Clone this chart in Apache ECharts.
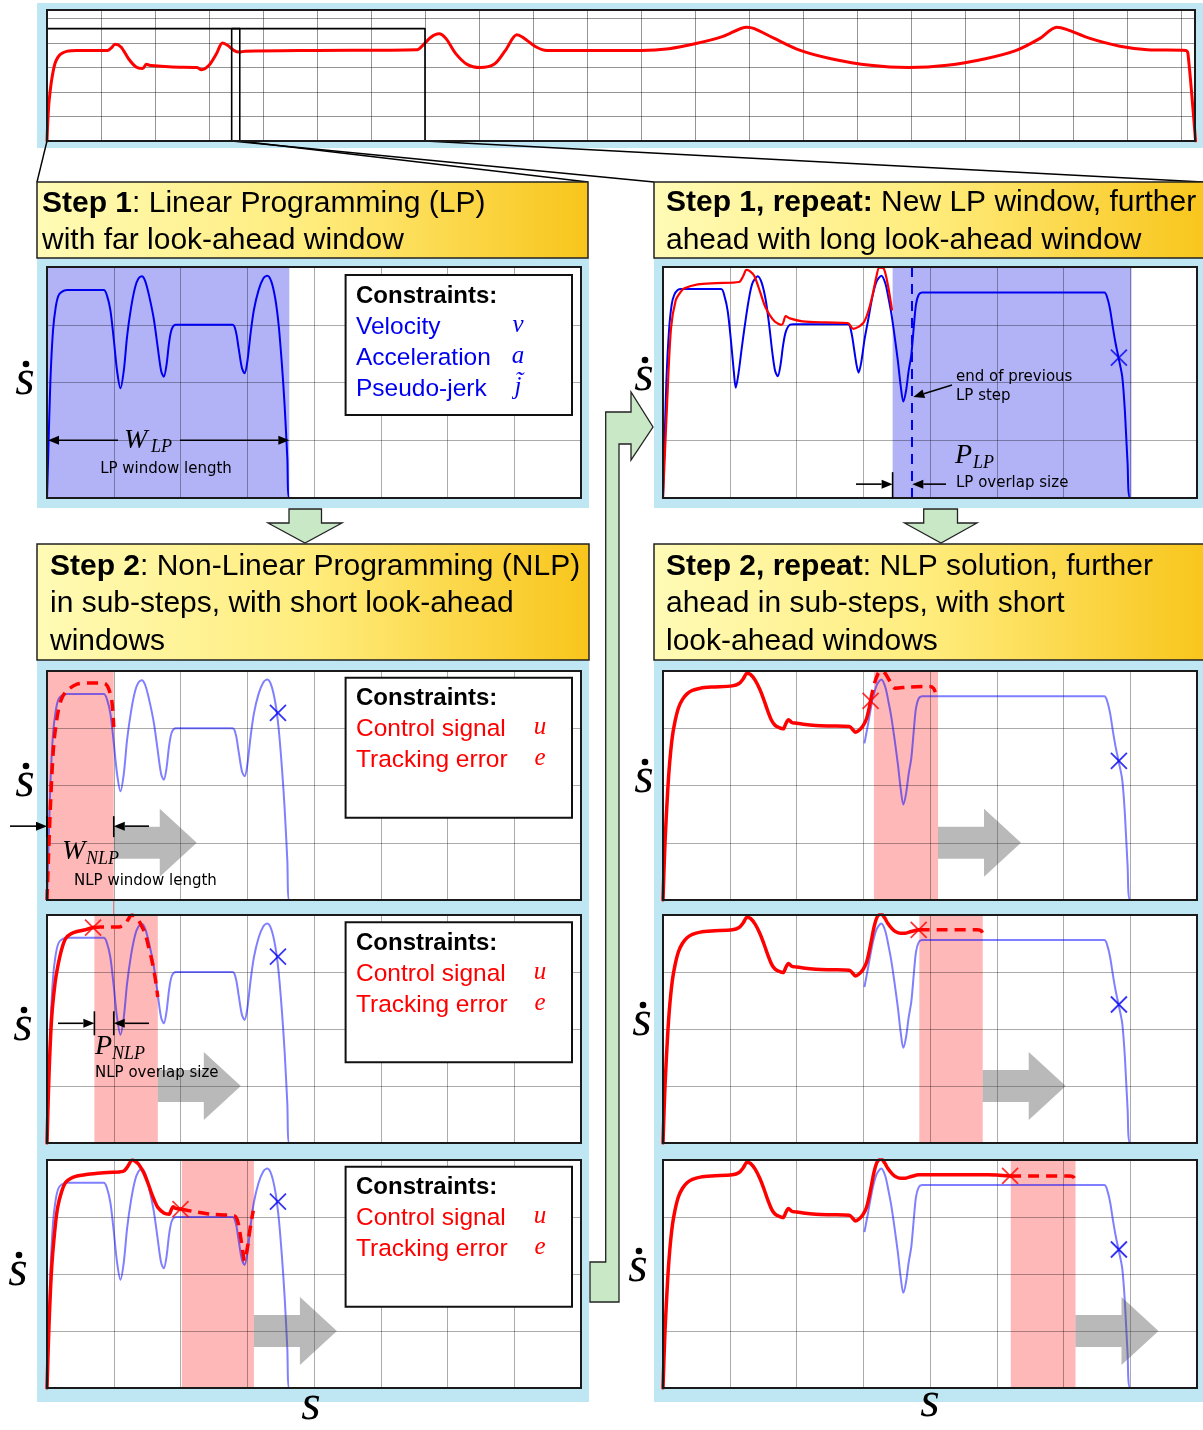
<!DOCTYPE html>
<html><head><meta charset="utf-8">
<script src="https://cdn.jsdelivr.net/npm/echarts@6/dist/echarts.min.js"></script>
<style>html,body{margin:0;padding:0;background:#fff;}#c{width:1203px;height:1430px;}</style>
</head><body><div id="c"></div>
<script>
// ================= DATA (s and s-dot in grid units) =================
// overview panel: whole trajectory
const overviewRed = [[0,0],[0.04,1.66],[0.13,3.02],[0.23,3.5],[0.38,3.67],[0.55,3.7],[1.12,3.7],[1.19,3.8],[1.26,3.95],[1.37,3.84],[1.51,3.36],[1.65,3.02],[1.77,2.96],[1.84,3.13],[1.93,3.08],[2.32,3.02],[2.78,3.0],[2.86,2.91],[3.0,3.09],[3.14,3.57],[3.25,4.0],[3.35,3.9],[3.46,3.7],[3.56,3.63],[3.67,3.67],[5.0,3.7],[6.86,3.73],[6.93,3.84],[7.11,4.24],[7.26,4.38],[7.39,4.18],[7.57,3.57],[7.78,3.13],[8.02,3.0],[8.28,3.13],[8.49,3.7],[8.7,4.34],[8.81,4.24],[9.06,3.84],[9.26,3.7],[11.0,3.7],[11.52,3.77],[12.02,3.98],[12.52,4.27],[12.96,4.65],[13.1,4.59],[13.46,4.2],[13.95,3.7],[14.52,3.36],[15.25,3.09],[15.95,3.0],[16.67,3.09],[17.38,3.36],[17.95,3.7],[18.38,4.18],[18.7,4.65],[18.88,4.56],[19.3,4.2],[19.87,3.87],[20.38,3.73],[21.09,3.7],[21.13,3.57],[21.27,0]];
const overviewLpWindow1 = [0, 3.57];
const overviewLpWindow2 = [3.42, 7.0];
const overviewWindowTop = 4.59;

// LP solutions (blue)
const lpProfile1 = [[0,0],[0.02,0.8],[0.05,2.0],[0.09,2.9],[0.13,3.3],[0.17,3.5],[0.22,3.57],[0.3,3.6],[0.85,3.6],[0.9,3.5],[0.95,3.25],[1.0,2.75],[1.05,2.2],[1.1,1.9],[1.15,2.2],[1.2,2.8],[1.26,3.3],[1.32,3.65],[1.37,3.8],[1.42,3.84],[1.47,3.76],[1.53,3.5],[1.6,3.1],[1.66,2.6],[1.71,2.2],[1.75,2.1],[1.79,2.3],[1.83,2.7],[1.87,2.93],[1.93,3.0],[2.78,3.0],[2.83,2.88],[2.87,2.6],[2.92,2.25],[2.96,2.16],[3.0,2.35],[3.05,2.85],[3.1,3.26],[3.17,3.6],[3.24,3.8],[3.3,3.85],[3.36,3.75],[3.42,3.45],[3.47,3.0],[3.52,2.3],[3.56,1.6],[3.6,0.7],[3.63,0],[8,0]];
const lpProfile2 = [[0,0],[0.02,0.8],[0.05,2.0],[0.09,2.9],[0.13,3.35],[0.17,3.52],[0.22,3.6],[0.27,3.62],[0.87,3.62],[0.92,3.5],[0.97,3.23],[1.02,2.7],[1.06,2.2],[1.09,1.91],[1.13,2.15],[1.18,2.6],[1.22,2.94],[1.28,3.4],[1.34,3.72],[1.42,3.84],[1.48,3.72],[1.54,3.42],[1.59,3.0],[1.64,2.5],[1.68,2.2],[1.72,2.11],[1.76,2.3],[1.8,2.65],[1.84,2.88],[1.9,3.0],[1.96,3.01],[2.77,3.01],[2.82,2.88],[2.86,2.6],[2.9,2.3],[2.93,2.17],[2.97,2.35],[3.02,2.75],[3.07,3.06],[3.14,3.5],[3.2,3.75],[3.27,3.85],[3.33,3.72],[3.38,3.45],[3.42,3.2],[3.47,2.8],[3.52,2.36],[3.56,1.95],[3.6,1.67],[3.64,1.85],[3.68,2.2],[3.72,2.48],[3.76,3.0],[3.79,3.35],[3.83,3.52],[3.88,3.56],[6.61,3.56],[6.66,3.45],[6.7,3.25],[6.74,2.95],[6.78,2.68],[6.83,2.4],[6.88,2.1],[6.92,1.5],[6.96,0.6],[7.0,0],[8,0]];
const lpWindowFill1 = [0, 3.63];
const lpWindowFill2 = [3.44, 7.02];
const prevLpEnd = 3.72;
const lp2VisibleFrom = 3.02;

// NLP solution shown in "Step 1, repeat" (red)
const nlpRedStep1Repeat = [[0,0],[0.06,1.6],[0.12,2.94],[0.19,3.42],[0.26,3.56],[0.32,3.63],[0.52,3.7],[0.8,3.72],[1.14,3.74],[1.2,3.84],[1.25,3.95],[1.31,3.92],[1.37,3.84],[1.46,3.55],[1.54,3.29],[1.67,3.06],[1.78,3.0],[1.84,3.15],[1.9,3.11],[2.09,3.06],[2.44,3.04],[2.77,3.03],[2.85,2.93],[3.0,3.03],[3.08,3.25],[3.14,3.52],[3.2,3.85],[3.24,3.99],[3.3,3.98],[3.34,3.85],[3.38,3.62],[3.43,3.26]];

// Step 2 (left): NLP sub-steps
const nlpWindowsLeft = [[0, 1.0], [0.71, 1.66], [2.02, 3.1]];
const nlpLeftDash1 = [[0,0],[0.05,1.6],[0.1,2.7],[0.16,3.25],[0.22,3.52],[0.3,3.66],[0.45,3.77],[0.6,3.79],[0.82,3.79],[0.88,3.77],[0.92,3.7],[0.97,3.49],[1.0,3.02]];
const nlpLeftSolid2 = [[0,0],[0.03,1.2],[0.07,2.2],[0.12,2.8],[0.16,3.09],[0.22,3.4],[0.28,3.59],[0.36,3.67],[0.45,3.71],[0.6,3.75],[0.69,3.78]];
const nlpLeftDash2 = [[0.69,3.78],[0.8,3.79],[0.91,3.79],[1.08,3.79],[1.17,3.84],[1.22,3.93],[1.27,4.0],[1.32,3.97],[1.37,3.91],[1.42,3.8],[1.47,3.68],[1.52,3.45],[1.57,3.21],[1.62,2.9],[1.66,2.56]];
const nlpLeftSolid3 = [[0,0],[0.03,1.1],[0.07,2.11],[0.12,2.8],[0.16,3.17],[0.22,3.45],[0.28,3.61],[0.36,3.68],[0.45,3.72],[0.7,3.76],[0.91,3.78],[1.14,3.8],[1.2,3.87],[1.28,4.0],[1.33,3.97],[1.37,3.93],[1.42,3.84],[1.46,3.75],[1.52,3.57],[1.57,3.4],[1.62,3.26],[1.66,3.17],[1.75,3.07],[1.83,3.05],[1.86,3.12],[1.89,3.18],[1.93,3.15],[2.0,3.14]];
const nlpLeftDash3 = [[2.0,3.14],[2.18,3.1],[2.44,3.05],[2.81,3.02],[2.85,2.95],[2.88,2.8],[2.92,2.5],[2.96,2.23],[3.0,2.45],[3.03,2.7],[3.06,2.92],[3.09,3.11]];
const redCrossLeft = [[0.69, 3.78], [2.0, 3.14]];
const blueCrossLeft = [3.46, 3.27];

// Step 2, repeat (right)
const nlpWindowsRight = [[3.16, 4.12], [3.84, 4.79], [5.21, 6.18]];
const realizedRight = [[0,0],[0.03,1.0],[0.07,1.9],[0.1,2.4],[0.14,2.85],[0.18,3.12],[0.23,3.35],[0.29,3.5],[0.36,3.6],[0.44,3.66],[0.56,3.7],[0.73,3.72],[1.04,3.74],[1.14,3.78],[1.2,3.86],[1.26,3.96],[1.31,3.94],[1.38,3.84],[1.45,3.68],[1.51,3.5],[1.57,3.3],[1.63,3.13],[1.68,3.05],[1.74,3.01],[1.8,2.99],[1.84,3.08],[1.88,3.15],[1.93,3.1],[1.98,3.09],[2.1,3.07],[2.29,3.05],[2.5,3.04],[2.79,3.03],[2.84,2.98],[2.88,2.93],[2.93,2.96],[2.99,3.03],[3.05,3.17],[3.11,3.48],[3.16,3.78],[3.21,3.97],[3.27,4.02],[3.32,3.95],[3.37,3.85],[3.43,3.76],[3.48,3.71],[3.56,3.68],[3.63,3.68],[3.72,3.71],[3.83,3.74],[4.27,3.74],[4.86,3.74],[5.2,3.72]];
const nlpRightDash1 = [[3.11,3.48],[3.16,3.75],[3.22,3.95],[3.27,4.01],[3.32,3.97],[3.36,3.9],[3.42,3.78],[3.48,3.7],[3.68,3.72],[4.0,3.73],[4.05,3.7],[4.08,3.63]];
const nlpRightDash2 = [[3.83,3.74],[4.2,3.74],[4.71,3.74],[4.77,3.72],[4.81,3.6]];
const nlpRightDash3 = [[5.2,3.72],[5.6,3.72],[6.1,3.72],[6.15,3.7],[6.2,3.58]];
const redCrossRight = [[3.11, 3.48], [3.83, 3.74], [5.2, 3.72]];
const blueCrossRight = [6.83, 2.43];
const gridLevel = 1.0; // level of grey "next" arrows

// ================= LAYOUT =================
const FONT = '"Liberation Sans", Arial, sans-serif';
const SERIF = '"Liberation Serif", "DejaVu Serif", serif';
const SMALL = '"DejaVu Sans", sans-serif';
const BLUE = '#0000F0', LBLUE = 'rgba(0,0,255,0.5)', RED = '#FF0000';
const SHADE_RED = 'rgba(255,0,0,0.28)', SHADE_BLUE = 'rgba(0,0,230,0.30)';
const PANEL = '#BEE6F3';
const HFS = 30; // header font size

const gridsPx = [
  {left:47, top:10, width:1148, height:131},
  {left:47, top:267, width:534, height:231},
  {left:47, top:671, width:534, height:229},
  {left:47, top:915, width:534, height:228},
  {left:47, top:1160, width:534, height:228},
  {left:663, top:267, width:534, height:231},
  {left:663, top:671, width:534, height:229},
  {left:663, top:915, width:534, height:228},
  {left:663, top:1160, width:534, height:228}
];

const grid = gridsPx.map(g => Object.assign({show:true, backgroundColor:'#fff', borderWidth:0, z:1}, g));
const axStyle = (c) => ({axisLine:{show:false}, axisTick:{show:false}, axisLabel:{show:false},
  splitLine:{show:true, showMinLine:false, showMaxLine:false, lineStyle:{color:c, width:1}}, z:2});
const xAxis = gridsPx.map((g,i) => Object.assign({type:'value', gridIndex:i, min:0, max: i===0 ? 21.26 : 8, interval:1}, axStyle(i===0?'rgba(0,0,0,0.42)':'rgba(0,0,0,0.33)')));
const yAxis = gridsPx.map((g,i) => Object.assign({type:'value', gridIndex:i, min:0, max: i===0 ? 5.35 : 4, interval:1}, axStyle(i===0?'rgba(0,0,0,0.42)':'rgba(0,0,0,0.33)')));

const series = [];
function addLine(g, data, color, width, dash, z) {
  series.push({type:'line', xAxisIndex:g, yAxisIndex:g, data, symbol:'none', smooth:0.3, silent:true, z: z||4,
    lineStyle:{color, width, type: dash ? [11,7] : 'solid', cap: dash ? 'butt' : 'round', join:'round'}});
}
function addArea(g, range, color) {
  series.push({type:'line', xAxisIndex:g, yAxisIndex:g, data:[[range[0],0],[range[1],0]], symbol:'none', silent:true, z:3,
    lineStyle:{opacity:0, width:0},
    markArea:{silent:true, itemStyle:{color}, data:[[{xAxis:range[0]},{xAxis:range[1]}]]}});
}
function addCross(g, pts, color) {
  series.push({type:'scatter', xAxisIndex:g, yAxisIndex:g, data:pts, symbol:'path://M0,0L20,20M20,0L0,20', symbolSize:16, silent:true, z:6,
    itemStyle:{color:'rgba(0,0,0,0)', borderColor:color, borderWidth:1.8}});
}

// overview
addLine(0, overviewRed, RED, 3, false);
series.push({type:'line', xAxisIndex:0, yAxisIndex:0, symbol:'none', silent:true, z:5, lineStyle:{color:'#000', width:1.6},
  data:[[overviewLpWindow1[0],0],[overviewLpWindow1[0],overviewWindowTop],[overviewLpWindow1[1],overviewWindowTop],[overviewLpWindow1[1],0]]});
series.push({type:'line', xAxisIndex:0, yAxisIndex:0, symbol:'none', silent:true, z:5, lineStyle:{color:'#000', width:1.6},
  data:[[overviewLpWindow2[0],0],[overviewLpWindow2[0],overviewWindowTop],[overviewLpWindow2[1],overviewWindowTop],[overviewLpWindow2[1],0]]});

// Step 1
addArea(1, lpWindowFill1, SHADE_BLUE);
addLine(1, lpProfile1, BLUE, 2, false);

// Step 2 (left)
const leftSolids = [null, nlpLeftSolid2, nlpLeftSolid3];
const leftDashes = [nlpLeftDash1, nlpLeftDash2, nlpLeftDash3];
for (let k = 0; k < 3; k++) {
  const g = 2 + k;
  addArea(g, nlpWindowsLeft[k], SHADE_RED);
  addLine(g, lpProfile1, LBLUE, 2, false);
  if (leftSolids[k]) addLine(g, leftSolids[k], RED, 3.5, false, 5);
  addLine(g, leftDashes[k], RED, 3.5, true, 5);
  addCross(g, [blueCrossLeft], BLUE);
  if (k > 0) addCross(g, [redCrossLeft[k-1]], RED);
}

// Step 1 repeat
addArea(5, lpWindowFill2, SHADE_BLUE);
series.push({type:'line', xAxisIndex:5, yAxisIndex:5, data:[[prevLpEnd,0]], symbol:'none', silent:true, z:4, lineStyle:{opacity:0},
  markLine:{silent:true, symbol:'none', label:{show:false}, lineStyle:{color:BLUE, width:2, type:[10,7]}, data:[{xAxis:prevLpEnd}]}});
addLine(5, lpProfile2, BLUE, 2, false);
addLine(5, nlpRedStep1Repeat, RED, 2.2, false, 5);
addCross(5, [blueCrossRight], BLUE);

// Step 2 repeat
const rightDashes = [nlpRightDash1, nlpRightDash2, nlpRightDash3];
for (let k = 0; k < 3; k++) {
  const g = 6 + k;
  addArea(g, nlpWindowsRight[k], SHADE_RED);
  addLine(g, lpProfile2.filter(p => p[0] >= lp2VisibleFrom), LBLUE, 2, false);
  addLine(g, realizedRight.filter(p => p[0] <= redCrossRight[k][0] + 1e-9), RED, 3.5, false, 5);
  addLine(g, rightDashes[k], RED, 3.5, true, 5);
  addCross(g, [redCrossRight[k]], RED);
  addCross(g, [blueCrossRight], BLUE);
}

const chart = echarts.init(document.getElementById('c'), null, {renderer:'canvas'});
chart.setOption({animation:false, backgroundColor:'#fff', grid, xAxis, yAxis, series});

// ================= DECORATION (graphic) =================
const P = (g, x, y) => chart.convertToPixel({gridIndex:g}, [x, y]);
const G = [];
function rect(x,y,w,h,style,z){ G.push({type:'rect', shape:{x,y,width:w,height:h}, style, z, silent:true}); }
function poly(points, style, z){ G.push({type:'polygon', shape:{points}, style, z, silent:true}); }
function seg(x1,y1,x2,y2,stroke,lw,z){ G.push({type:'line', shape:{x1,y1,x2,y2}, style:{stroke, lineWidth:lw}, z, silent:true}); }
function text(x,y,str,o){
  G.push({type:'text', x, y, z:o.z||14, silent:true, style:{text:str, fill:o.fill||'#000', fontSize:o.size, fontFamily:o.family||FONT,
    fontWeight:o.weight||'normal', fontStyle:o.style||'normal', align:o.align||'left', verticalAlign:'middle', rich:o.rich}});
}
function arrow(x1,y1,x2,y2,z){
  const dx=x2-x1, dy=y2-y1, L=Math.hypot(dx,dy), ux=dx/L, uy=dy/L, hl=11, hw=4.5;
  const bx=x2-ux*hl, by=y2-uy*hl;
  seg(x1,y1,bx,by,'#000',1.6,z||14);
  poly([[x2,y2],[bx-uy*hw,by+ux*hw],[bx+uy*hw,by-ux*hw]], {fill:'#000'}, z||14);
}
function grayArrow(g, xStart){
  const a = P(g, xStart, gridLevel);
  const xs=a[0], yc=a[1], xm=xs+46, xe=xm+37, hs=16, hh=34;
  poly([[xs,yc-hs],[xm,yc-hs],[xm,yc-hh],[xe,yc],[xm,yc+hh],[xm,yc+hs],[xs,yc+hs]], {fill:'rgba(80,80,80,0.40)'}, 11);
}
function sdot(cx, cy){
  text(cx, cy-4, 's', {size:50, family:SERIF, style:'italic', align:'center'});
  G.push({type:'circle', shape:{cx:cx+1, cy:cy-21, r:3.3}, style:{fill:'#000'}, z:14, silent:true});
}

// panels
rect(37,3,1166,145,{fill:PANEL},0);
rect(37,258,552,250,{fill:PANEL},0);
rect(654,258,549,250,{fill:PANEL},0);
rect(37,660,552,742,{fill:PANEL},0);
rect(654,660,549,742,{fill:PANEL},0);

// diagonal zoom lines
const w1a = P(0, overviewLpWindow1[0], 0), w1b = P(0, overviewLpWindow1[1], 0);
const w2a = P(0, overviewLpWindow2[0], 0), w2b = P(0, overviewLpWindow2[1], 0);
seg(w1a[0], w1a[1], 37, 182, '#000', 1.4, 7);
seg(w1b[0], w1b[1], 588, 182, '#000', 1.4, 7);
seg(w2a[0], w2a[1], 654, 182, '#000', 1.4, 7);
seg(w2b[0], w2b[1], 1203, 182, '#000', 1.4, 7);

// headers
const grad = () => new echarts.graphic.LinearGradient(0,0,1,0,[{offset:0,color:'#FFFBB6'},{offset:0.5,color:'#FFEC7C'},{offset:1,color:'#F8C51B'}]);
function header(x,y,w,h){ rect(x,y,w,h,{fill:grad(), stroke:'#222', lineWidth:1.5},8); }
const HR = {b:{fontSize:HFS, fontFamily:FONT, fontWeight:'bold', fill:'#000'}, n:{fontSize:HFS, fontFamily:FONT, fill:'#000'}};
header(37,182,551,76);
text(42,204,'{b|Step 1}{n|: Linear Programming (LP)}',{size:HFS, rich:HR});
text(42,241,'{n|with far look-ahead window}',{size:HFS, rich:HR});
header(654,182,552,76);
text(666,203,'{b|Step 1, repeat:}{n| New LP window, further}',{size:HFS, rich:HR});
text(666,241,'{n|ahead with long look-ahead window}',{size:HFS, rich:HR});
header(37,544,552,116);
text(50,567,'{b|Step 2}{n|: Non-Linear Programming (NLP)}',{size:HFS, rich:HR});
text(50,604,'{n|in sub-steps, with short look-ahead}',{size:HFS, rich:HR});
text(50,642,'{n|windows}',{size:HFS, rich:HR});
header(654,544,552,116);
text(666,567,'{b|Step 2, repeat}{n|: NLP solution, further}',{size:HFS, rich:HR});
text(666,604,'{n|ahead in sub-steps, with short}',{size:HFS, rich:HR});
text(666,642,'{n|look-ahead windows}',{size:HFS, rich:HR});

// green arrows
const GREEN = {fill:'#C8E8C6', stroke:'#222', lineWidth:1.3};
poly([[289,509],[321.5,509],[321.5,523],[342,523],[305,543],[268,523],[289,523]], GREEN, 8);
poly([[923.7,509],[957.5,509],[957.5,523],[977,523],[941,543],[904.5,523],[923.7,523]], GREEN, 8);
poly([[590,1302],[619,1302],[619,444],[631,444],[631,460],[653,427],[631,392],[631,412],[605.7,412],[605.7,1262],[590,1262]], GREEN, 8);

// plot borders
gridsPx.forEach(g => rect(g.left, g.top, g.width, g.height, {fill:'none', stroke:'#1a1a1a', lineWidth:2}, 12));

// constraint boxes
function cbox(top, items, syms, colr, symX){
  rect(345.6, top, 226.4, 140, {fill:'#fff', stroke:'#111', lineWidth:2}, 10);
  text(356, top+21, 'Constraints:', {size:24, weight:'bold'});
  items.forEach((s,i) => text(356, top+52+i*31, s, {size:24.5, fill:colr}));
  syms.forEach((s,i) => text(symX, top+50+i*31, s, {size:25, family:SERIF, style:'italic', fill:colr, align:'center'}));
}
cbox(275, ['Velocity','Acceleration','Pseudo-jerk'], ['v','a','j\u0303'], BLUE, 518);
cbox(677.7, ['Control signal','Tracking error'], ['u','e'], RED, 540);
cbox(922.3, ['Control signal','Tracking error'], ['u','e'], RED, 540);
cbox(1166.7, ['Control signal','Tracking error'], ['u','e'], RED, 540);

// grey "next window" arrows
for (let k=0;k<3;k++){ grayArrow(2+k, nlpWindowsLeft[k][1]); grayArrow(6+k, nlpWindowsRight[k][1]); }

// thin red window edge between first two NLP plots
const re = P(2, nlpWindowsLeft[0][1], 0);
seg(re[0], 900, re[0], 915, 'rgba(255,0,0,0.6)', 1, 9);

// W_LP annotation
const wl0 = P(1, lpWindowFill1[0], 1), wl1 = P(1, lpWindowFill1[1], 1);
arrow(118, wl0[1], wl0[0]+1, wl0[1]);
arrow(180, wl1[1], wl1[0], wl1[1]);
text(124, wl0[1], 'W', {size:28, family:SERIF, style:'italic'});
text(151, wl0[1]+7, 'LP', {size:18, family:SERIF, style:'italic'});
text(166, 469, 'LP window length', {size:15, family:SMALL, align:'center'});

// W_NLP annotation
const wn0 = P(2, nlpWindowsLeft[0][0], 1.29), wn1 = P(2, nlpWindowsLeft[0][1], 1.29);
arrow(10, wn0[1], wn0[0], wn0[1]); seg(wn0[0], wn0[1]-10, wn0[0], wn0[1]+11, '#000', 1.6, 14);
arrow(149, wn1[1], wn1[0], wn1[1]); seg(wn1[0], wn1[1]-10, wn1[0], wn1[1]+11, '#000', 1.6, 14);
text(62, 852, 'W', {size:28, family:SERIF, style:'italic'});
text(86, 859, 'NLP', {size:18, family:SERIF, style:'italic'});
text(74, 881, 'NLP window length', {size:15, family:SMALL});

// P_NLP annotation
const pn0 = P(3, nlpWindowsLeft[1][0], 2.1), pn1 = P(3, nlpWindowsLeft[0][1], 2.1);
arrow(58, pn0[1], pn0[0], pn0[1]); seg(pn0[0], pn0[1]-12, pn0[0], pn0[1]+12, '#000', 1.6, 14);
arrow(149, pn1[1], pn1[0], pn1[1]); seg(pn1[0], pn1[1]-12, pn1[0], pn1[1]+12, '#000', 1.6, 14);
text(95, 1047, 'P', {size:28, family:SERIF, style:'italic'});
text(112, 1054, 'NLP', {size:18, family:SERIF, style:'italic'});
text(95, 1073, 'NLP overlap size', {size:15, family:SMALL});

// P_LP annotation + previous step
const pl0 = P(5, lpWindowFill2[0], 0.24), pl1 = P(5, prevLpEnd, 0.24);
arrow(856, pl0[1], pl0[0], pl0[1]); seg(pl0[0], pl0[1]-12, pl0[0], 498, '#000', 1.6, 14);
arrow(946, pl1[1], pl1[0]+1, pl1[1]);
text(955, 456, 'P', {size:28, family:SERIF, style:'italic'});
text(973, 463, 'LP', {size:18, family:SERIF, style:'italic'});
text(956, 483, 'LP overlap size', {size:15, family:SMALL});
text(956, 377, 'end of previous', {size:15, family:SMALL});
text(956, 396, 'LP step', {size:15, family:SMALL});
arrow(952, 385, pl1[0]+2, 397);

// axis symbols
[[25,385],[25,787],[23,1031],[18,1276],[644,381],[644,783],[642,1026],[638,1272]].forEach(p => sdot(p[0], p[1]));
text(311, 1406, 's', {size:50, family:SERIF, style:'italic', align:'center'});
text(930, 1403, 's', {size:50, family:SERIF, style:'italic', align:'center'});

chart.setOption({graphic:{elements:G}});
</script></body></html>
